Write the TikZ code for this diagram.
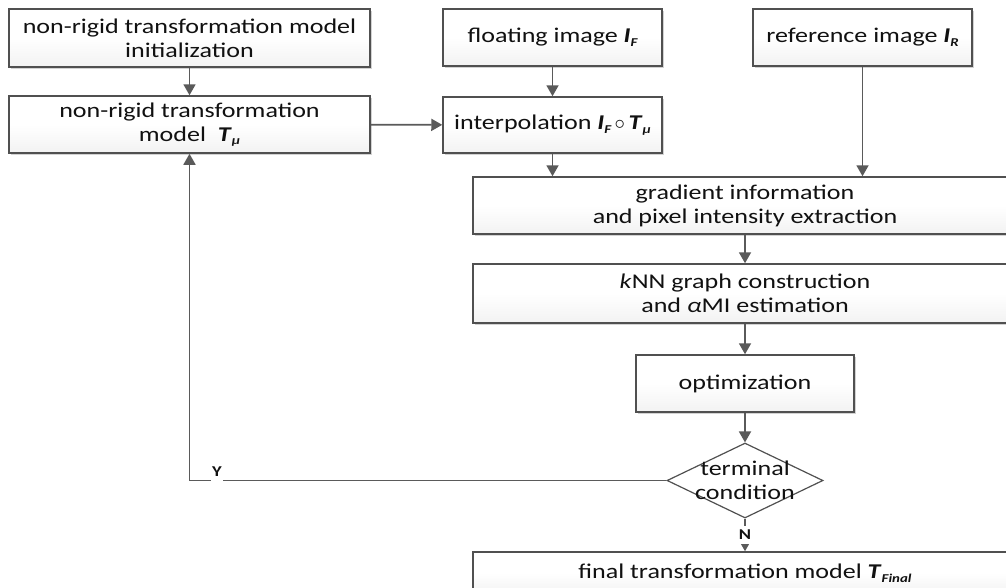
\documentclass[tikz,border=0pt]{standalone}
\usepackage{fontspec}
\setmainfont{Carlito}[FakeStretch=1.24]
\usetikzlibrary{arrows.meta,shapes.geometric,shadows}
\definecolor{boxline}{HTML}{505050}
\definecolor{conn}{HTML}{5A5A5A}
\definecolor{txt}{HTML}{111111}
\newcommand{\mysub}[1]{\raisebox{-0.35ex}{\fontsize{12}{12}\selectfont\itshape\bfseries #1}}
\newcommand{\mvar}[1]{\textit{\textbf{#1}}}
\begin{document}
\begin{tikzpicture}[x=1pt,y=-1pt,
  box/.style={rectangle, draw=boxline, line width=1.5pt, top color=white, bottom color=gray!10,
    middle color=white,
    drop shadow={shadow xshift=2pt, shadow yshift=-2pt, opacity=0.35, fill=gray},
    inner sep=0pt, align=center, text=txt, font=\fontsize{21}{24}\selectfont},
  diam/.style={diamond, draw=boxline, line width=1.2pt, fill=white, inner sep=0pt,
    minimum width=156pt, minimum height=75pt},
  ctext/.style={inner sep=0pt, align=center, text=txt, font=\fontsize{21}{24}\selectfont},
  arr/.style={draw=conn, line width=1.8pt, -{Triangle[width=12pt,length=11pt]}},
  lbl/.style={fill=white, inner xsep=1.5pt, inner ysep=0pt, minimum height=18pt, text=txt,
    font=\fontsize{15}{15}\selectfont\bfseries}]
\useasboundingbox (0,0) rectangle (1006,587);
\clip (0,0) rectangle (1006,587);
\fill[white] (0,0) rectangle (1006,587);
% boxes
\node[box, minimum width=361pt, minimum height=58pt] (A) at (189.5,38) {non-rigid transformation model\\initialization};
\node[box, minimum width=361pt, minimum height=57pt] (B) at (189.5,124.5) {non-rigid transformation\\model~~\mvar{T}\mysub{μ}};
\node[box, minimum width=219pt, minimum height=57pt] (C) at (552.5,37.5) {floating image \mvar{I}\mysub{F}};
\node[box, minimum width=219pt, minimum height=57pt] (R) at (862.5,37.5) {reference image \mvar{I}\mysub{R}};
\node[box, minimum width=219pt, minimum height=56pt] (I) at (552.5,125) {interpolation \mvar{I}\mysub{F}\,$\circ$\,\mvar{T}\mysub{μ}};
\node[box, minimum width=544pt, minimum height=57pt] (G) at (745,205.5) {gradient information\\and pixel intensity extraction};
\node[box, minimum width=544pt, minimum height=59pt] (K) at (745,293.5) {\textit{k}NN graph construction\\and \textit{α}MI estimation};
\node[box, minimum width=218pt, minimum height=57pt] (O) at (745,383.5) {optimization};
\node[diam] (T) at (745,480.5) {};
\node[ctext] (Tt) at (T.center) {terminal\\condition};
\node[box, minimum width=544pt, minimum height=42pt] (F) at (745,573) {final transformation model \mvar{T}\mysub{Final}};
% connectors
\draw[arr] (A) -- (B);
\draw[arr] (B) -- (I);
\draw[arr] (C) -- (I);
\draw[arr] (I.south) -- (I.south |- G.north);
\draw[arr] (R.south) -- (R.south |- G.north);
\draw[arr] (G) -- (K);
\draw[arr] (K) -- (O);
\draw[arr] (O) -- (T);
\draw[arr] (T.south) -- (F.north);
\draw[arr] (T.west) -- (B.south |- T.west) -- (B.south);
\node[lbl] (Y) at (217,472) {Y};
\node[lbl] (N) at (745,535) {N};
\end{tikzpicture}
\end{document}
